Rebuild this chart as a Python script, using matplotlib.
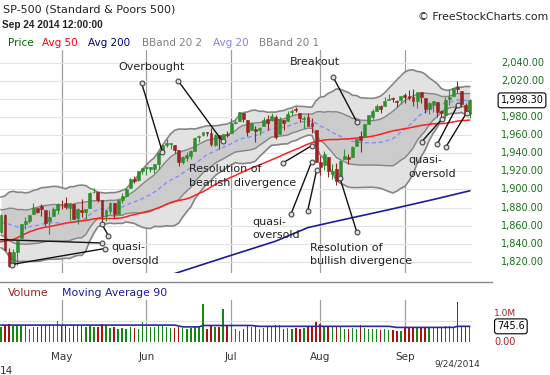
import matplotlib
matplotlib.use("Agg")
import matplotlib.pyplot as plt
from matplotlib.transforms import blended_transform_factory
import numpy as np
import pandas as pd

# Closes before the visible window (Jan 29 - Apr 8 2014), only used to warm up the averages
warmup_closes = [1774.20, 1794.19, 1782.59,
                 1741.89, 1755.20, 1751.64, 1773.43, 1797.02, 1799.84, 1819.75, 1819.26, 1829.83,
                 1838.63, 1840.76, 1828.75, 1839.78, 1836.25, 1847.61, 1845.12, 1845.16, 1854.29, 1859.45,
                 1845.73, 1873.91, 1873.81, 1877.03, 1878.04, 1877.17, 1867.63, 1868.20, 1846.34, 1841.13,
                 1858.83, 1872.25, 1860.77, 1872.01, 1866.52, 1857.44, 1865.62, 1852.56, 1849.04, 1857.62,
                 1872.34, 1885.52, 1890.90, 1888.77, 1865.09, 1845.04, 1851.96]

dates = ["2014-04-09", "2014-04-10", "2014-04-11", "2014-04-14", "2014-04-15", "2014-04-16", "2014-04-17",
         "2014-04-21", "2014-04-22", "2014-04-23", "2014-04-24", "2014-04-25", "2014-04-28", "2014-04-29",
         "2014-04-30", "2014-05-01", "2014-05-02", "2014-05-05", "2014-05-06", "2014-05-07", "2014-05-08",
         "2014-05-09", "2014-05-12", "2014-05-13", "2014-05-14", "2014-05-15", "2014-05-16", "2014-05-19",
         "2014-05-20", "2014-05-21", "2014-05-22", "2014-05-23", "2014-05-27", "2014-05-28", "2014-05-29",
         "2014-05-30", "2014-06-02", "2014-06-03", "2014-06-04", "2014-06-05", "2014-06-06", "2014-06-09",
         "2014-06-10", "2014-06-11", "2014-06-12", "2014-06-13", "2014-06-16", "2014-06-17", "2014-06-18",
         "2014-06-19", "2014-06-20", "2014-06-23", "2014-06-24", "2014-06-25", "2014-06-26", "2014-06-27",
         "2014-06-30", "2014-07-01", "2014-07-02", "2014-07-03", "2014-07-07", "2014-07-08", "2014-07-09",
         "2014-07-10", "2014-07-11", "2014-07-14", "2014-07-15", "2014-07-16", "2014-07-17", "2014-07-18",
         "2014-07-21", "2014-07-22", "2014-07-23", "2014-07-24", "2014-07-25", "2014-07-28", "2014-07-29",
         "2014-07-30", "2014-07-31", "2014-08-01", "2014-08-04", "2014-08-05", "2014-08-06", "2014-08-07",
         "2014-08-08", "2014-08-11", "2014-08-12", "2014-08-13", "2014-08-14", "2014-08-15", "2014-08-18",
         "2014-08-19", "2014-08-20", "2014-08-21", "2014-08-22", "2014-08-25", "2014-08-26", "2014-08-27",
         "2014-08-28", "2014-08-29", "2014-09-02", "2014-09-03", "2014-09-04", "2014-09-05", "2014-09-08",
         "2014-09-09", "2014-09-10", "2014-09-11", "2014-09-12", "2014-09-15", "2014-09-16", "2014-09-17",
         "2014-09-18", "2014-09-19", "2014-09-22", "2014-09-23", "2014-09-24"]

opens = [1852.64, 1872.28, 1830.65, 1818.18, 1831.45, 1846.01, 1861.73, 1865.79, 1872.57, 1879.32, 1881.97,
         1877.72, 1865.00, 1870.78, 1877.10, 1884.39, 1885.30, 1879.45, 1883.69, 1868.53, 1877.39, 1875.27,
         1880.03, 1896.75, 1897.13, 1888.16, 1871.19, 1876.66, 1884.88, 1873.34, 1888.19, 1893.32, 1902.01,
         1911.77, 1910.60, 1920.33, 1923.87, 1923.07, 1923.06, 1928.52, 1942.41, 1948.97, 1950.34, 1949.37,
         1943.35, 1930.80, 1934.84, 1937.15, 1942.73, 1957.50, 1960.45, 1962.92, 1961.97, 1949.27, 1959.89,
         1956.56, 1960.79, 1962.29, 1973.06, 1975.88, 1984.22, 1976.39, 1965.10, 1966.67, 1965.76, 1969.86,
         1977.36, 1976.35, 1979.75, 1961.54, 1976.93, 1975.65, 1985.32, 1988.07, 1984.60, 1978.25, 1980.03,
         1973.21, 1965.14, 1929.80, 1926.62, 1936.34, 1917.29, 1923.03, 1910.35, 1933.43, 1935.73, 1935.60,
         1947.41, 1958.87, 1958.36, 1972.73, 1980.46, 1986.82, 1992.60, 1991.74, 1998.59, 2000.54, 1997.42,
         1998.45, 2004.07, 2003.57, 2001.67, 1998.00, 2007.17, 2000.73, 1988.41, 1992.85, 1996.74, 1986.04,
         1981.93, 1999.30, 2003.07, 2012.74, 2009.08, 1992.78, 1983.34]
highs = [1872.43, 1872.53, 1835.07, 1834.19, 1844.02, 1862.31, 1869.63, 1871.89, 1884.89, 1879.75, 1884.06,
         1877.72, 1877.01, 1880.60, 1885.20, 1888.59, 1891.33, 1885.51, 1883.69, 1879.83, 1889.07, 1878.57,
         1897.13, 1902.17, 1897.13, 1888.16, 1878.28, 1886.00, 1884.88, 1888.80, 1896.33, 1901.26, 1912.28,
         1914.46, 1920.03, 1924.03, 1925.88, 1925.07, 1928.63, 1941.74, 1949.44, 1955.55, 1950.86, 1949.37,
         1943.35, 1937.30, 1941.15, 1943.69, 1957.74, 1959.87, 1963.91, 1963.74, 1968.17, 1960.83, 1959.89,
         1961.47, 1964.24, 1978.58, 1976.67, 1985.59, 1984.22, 1976.39, 1974.15, 1969.84, 1968.67, 1979.85,
         1982.52, 1983.94, 1981.80, 1979.91, 1976.93, 1986.24, 1989.23, 1991.39, 1984.60, 1981.52, 1984.85,
         1978.90, 1965.14, 1937.35, 1942.92, 1936.34, 1927.91, 1928.89, 1932.38, 1944.90, 1939.65, 1948.41,
         1955.23, 1964.04, 1971.99, 1982.57, 1988.57, 1994.76, 1993.54, 2001.95, 2005.04, 2002.14, 1998.55,
         2003.38, 2006.12, 2009.28, 2011.17, 2007.71, 2007.17, 2001.01, 1996.66, 1997.65, 1996.74, 1987.18,
         2002.28, 2010.74, 2012.34, 2019.26, 2009.08, 1995.41, 1999.79]
lows = [1852.38, 1832.56, 1814.36, 1815.80, 1816.29, 1846.01, 1856.72, 1863.18, 1872.57, 1873.91, 1870.24,
        1859.70, 1850.61, 1870.78, 1872.69, 1878.04, 1878.50, 1866.77, 1867.72, 1862.36, 1870.05, 1867.02,
        1880.03, 1896.06, 1885.77, 1862.36, 1864.82, 1872.42, 1868.14, 1873.34, 1885.39, 1893.32, 1902.01,
        1907.30, 1909.82, 1916.64, 1915.98, 1918.79, 1918.60, 1922.93, 1942.41, 1947.16, 1944.64, 1940.08,
        1925.78, 1927.69, 1930.91, 1933.55, 1942.73, 1952.26, 1959.17, 1958.89, 1948.34, 1947.49, 1944.69,
        1952.18, 1958.22, 1962.29, 1972.58, 1975.88, 1974.88, 1959.46, 1965.10, 1952.86, 1959.63, 1969.86,
        1965.34, 1975.67, 1955.59, 1960.82, 1965.77, 1975.65, 1982.44, 1985.79, 1974.37, 1967.31, 1969.95,
        1962.42, 1930.67, 1916.37, 1921.20, 1913.77, 1911.45, 1904.78, 1909.01, 1933.43, 1928.29, 1935.60,
        1947.41, 1941.50, 1958.36, 1972.73, 1977.68, 1986.82, 1984.76, 1991.74, 1998.59, 1996.20, 1990.52,
        1994.65, 1994.85, 1998.14, 1992.54, 1990.10, 1995.60, 1984.61, 1982.99, 1985.93, 1980.26, 1978.48,
        1979.06, 1993.29, 2003.07, 2006.59, 1991.01, 1982.77, 1978.63]
closes = [1872.18, 1833.08, 1815.69, 1830.61, 1842.98, 1862.31, 1864.85, 1871.89, 1879.55, 1875.39, 1878.61,
          1863.40, 1869.43, 1878.33, 1883.95, 1883.68, 1881.14, 1884.66, 1867.72, 1878.21, 1875.63, 1878.48,
          1896.65, 1897.45, 1888.53, 1870.85, 1877.86, 1885.08, 1872.83, 1888.03, 1892.49, 1900.53, 1911.91,
          1909.78, 1920.03, 1923.57, 1924.97, 1924.24, 1927.88, 1940.46, 1949.44, 1951.27, 1950.79, 1943.89,
          1930.11, 1936.16, 1937.78, 1941.99, 1956.98, 1959.48, 1962.87, 1962.61, 1949.98, 1959.53, 1957.22,
          1960.96, 1960.23, 1973.32, 1974.62, 1985.44, 1977.65, 1963.71, 1972.83, 1964.68, 1967.57, 1977.10,
          1973.28, 1981.57, 1958.12, 1978.22, 1973.63, 1983.53, 1987.01, 1987.98, 1978.34, 1978.91, 1969.95,
          1970.07, 1930.67, 1925.15, 1938.99, 1920.21, 1920.24, 1909.57, 1931.59, 1936.92, 1933.75, 1946.72,
          1955.18, 1955.06, 1971.74, 1981.60, 1986.51, 1992.37, 1988.40, 1997.92, 2000.02, 2000.12, 1996.74,
          2003.37, 2002.28, 2000.72, 1997.65, 2007.71, 2001.54, 1988.44, 1995.69, 1997.45, 1985.54, 1984.13,
          1998.98, 2001.57, 2011.36, 2010.40, 1994.29, 1982.77, 1998.30]
volumes = [700, 820, 850, 760, 820, 780, 800, 620, 720, 700, 740, 760, 880, 760, 1000,
           780, 760, 680, 800, 820, 800, 720, 760, 700, 720, 860, 800, 650, 720, 640, 690,
           640, 700, 660, 640, 970, 700, 720, 700, 760, 740, 700, 690, 660, 720, 650, 640,
           650, 700, 720, 1810, 640, 760, 700, 720, 1550, 760, 780, 620, 520, 640, 740, 700,
           760, 640, 650, 720, 700, 820, 800, 640, 660, 640, 660, 620, 690, 700, 720, 930,
           880, 740, 780, 760, 740, 700, 620, 640, 660, 640, 820, 650, 620, 600, 640, 560,
           600, 580, 560, 520, 540, 700, 700, 720, 680, 660, 720, 680, 650, 720, 700, 740,
           760, 720, 1910, 760, 740, 720]

# 200 day average at a few dates
avg200_dates = ["2014-05-23", "2014-06-11", "2014-06-30", "2014-07-17", "2014-07-29",
                "2014-08-07", "2014-08-26", "2014-09-11", "2014-09-24"]
avg200 = [1790, 1807.3, 1826, 1843, 1858, 1865, 1877.7, 1888.9, 1898.5]

# volume moving average (90)
volma_dates = ["2014-04-09", "2014-06-11", "2014-06-13", "2014-06-19", "2014-06-20", "2014-07-09",
               "2014-07-11", "2014-08-26", "2014-08-28", "2014-09-18", "2014-09-19", "2014-09-24"]
volma = [805, 805, 720, 720, 786, 786, 746, 746, 695, 695, 746, 745.6]

month_dates = ["2014-05-01", "2014-06-02", "2014-07-01", "2014-08-01", "2014-09-02"]
month_labels = ["May", "Jun", "Jul", "Aug", "Sep"]
price_ticks = list(range(1820, 2041, 20))

# trading day index, Apr 10 = 0
x = np.arange(len(dates)) - 1
pos = {d: i - 1 for i, d in enumerate(dates)}

# Bollinger bands and averages
allc = pd.Series(warmup_closes + closes)
k = len(warmup_closes)
sma20 = allc.rolling(20).mean().values[k:]
sd20 = allc.rolling(20).std(ddof=0).values[k:]
sma50 = allc.rolling(50).mean().values[k:]

o = np.array(opens); c = np.array(closes)
h = np.array(highs); l = np.array(lows)
up = c >= o
GREEN, RED = "#2f8f2f", "#992222"
cols = np.where(up, GREEN, RED)

W, H = 550, 375
def box(left, top, right, bottom):
    return [left / W, 1 - bottom / H, (right - left) / W, (bottom - top) / H]

fig = plt.figure(figsize=(5.5, 3.75), dpi=100)
fig.patch.set_facecolor("white")
ax = fig.add_axes(box(0, 50, 472, 273))
vax = fig.add_axes(box(0, 300, 472, 342))
over = fig.add_axes([0, 0, 1, 1], zorder=10)
over.set_xlim(0, W)
over.set_ylim(H, 0)
over.axis("off")
over.patch.set_alpha(0)

xlim = (-1.24, 115.6)
for a in (ax, vax):
    a.set_xlim(*xlim)
    for s in a.spines.values():
        s.set_visible(False)
    a.tick_params(length=0, labelbottom=False, labelleft=False)
    a.set_xticks([])
    for d in month_dates:
        a.axvline(pos[d], color="#a0a0a0", lw=0.9, zorder=1)

# price panel
ax.set_ylim(1807.9, 2053.8)
ax.set_yticks(price_ticks)
ax.yaxis.grid(True, color="#e3e3e3", lw=0.8, zorder=0)
ax.fill_between(x, sma20 - 2 * sd20, sma20 + 2 * sd20, color="#e2e2e2", lw=0, zorder=2)
ax.fill_between(x, sma20 - sd20, sma20 + sd20, color="#cbcbcb", lw=0, zorder=2)
for band, lw in ((sma20 + 2 * sd20, 1.2), (sma20 - 2 * sd20, 1.2), (sma20 + sd20, 1.0), (sma20 - sd20, 1.0)):
    ax.plot(x, band, color="#858585", lw=lw, zorder=3)
ax.plot(x, sma20, color="#8c8cff", lw=1.0, ls=(0, (3, 2)), zorder=3)
ax.plot(x, sma50, color="#ff2020", lw=1.1, zorder=3)
ax.plot([pos[d] for d in avg200_dates], avg200, color="#1c1c9c", lw=1.2, zorder=3)

ax.vlines(x, l, h, color=cols, lw=0.8, zorder=5)
ax.bar(x, np.maximum(np.abs(c - o), 0.6), bottom=np.minimum(o, c), width=0.72,
       color=cols, edgecolor=cols, lw=0.4, zorder=6)

# volume panel
vax.set_ylim(0, 2000)
vax.set_yticks([1000])
vax.yaxis.grid(True, color="#e3e3e3", lw=0.8, zorder=0)
vax.bar(x, volumes, width=0.35, color=np.where(up, "#118811", "#aa1111"), lw=0, zorder=3)
vax.plot([pos[d] for d in volma_dates], volma, color="#2a2aa8", lw=1.2, zorder=4)

# separator between the panels
over.plot([0, 492], [282, 282], color="#8a8a8a", lw=1)

# header texts
over.text(3, 9, "SP-500 (Standard & Poors 500)", fontsize=8, color="#222222", va="center")
over.text(2, 25, "Sep 24 2014 12:00:00", fontsize=7.2, family="Liberation Sans",
          weight="bold", color="#222222", va="center")
over.text(548, 17, "\u00a9 FreeStockCharts.com", fontsize=7.8, color="#222222", ha="right", va="center")
legend = [("Price", "#006600", 8), ("Avg 50", "#ff0000", 42), ("Avg 200", "#000080", 88),
          ("BBand 20 2", "#808080", 142), ("Avg 20", "#8080ff", 213), ("BBand 20 1", "#808080", 259)]
for txt, col, px in legend:
    over.text(px, 43, txt, fontsize=7.5, color=col, va="center")
over.text(8, 293, "Volume", fontsize=7.8, color="#992222", va="center")
over.text(62, 293, "Moving Average 90", fontsize=7.8, color="#1c1c9c", va="center")

# right hand price scale
ptrans = blended_transform_factory(over.transData, ax.transData)
for v in price_ticks:
    over.text(501, v, f"{v:,.2f}", transform=ptrans, fontsize=7, color="#1a6e1a", va="center")
over.text(522, c[-1], f"{c[-1]:,.2f}", transform=ptrans, fontsize=7, color="black", ha="center",
          va="center", bbox=dict(boxstyle="round,pad=0.25", fc="white", ec="black", lw=0.8))
vtrans = blended_transform_factory(over.transData, vax.transData)
over.text(494, 313, "1.0M", fontsize=6.5, color="#aa2222", va="center")
over.text(494, 0, "0.00", transform=vtrans, fontsize=7, color="#aa2222", va="center")
over.text(497, volma[-1], f"{volma[-1]:.1f}", transform=vtrans, fontsize=7, color="black",
          va="center", bbox=dict(boxstyle="round,pad=0.25", fc="white", ec="black", lw=0.8))

# month labels
mtrans = blended_transform_factory(ax.transData, over.transData)
for d, lab in zip(month_dates, month_labels):
    over.text(pos[d], 357, lab, transform=mtrans, fontsize=7.5, color="#333333", ha="center", va="center")
over.text(0, 371, "14", fontsize=7.5, color="#333333", va="center")
over.text(457, 364, "9/24/2014", fontsize=6.5, color="#333333", ha="center", va="center")

# annotations (pixel positions on the image)
notes = [("Overbought", 152, 67, "center"),
         ("Resolution of\nbearish divergence", 189, 176, "left"),
         ("Breakout", 315, 62, "center"),
         ("quasi-\noversold", 111, 254, "left"),
         ("quasi-\noversold", 252, 228.5, "left"),
         ("Resolution of\nbullish divergence", 310, 254.5, "left"),
         ("quasi-\noversold", 408, 167, "left")]
for txt, px, py, ha in notes:
    over.text(px, py, txt, fontsize=8, color="#222222", ha=ha, va="center", linespacing=1.45)

pointers = [((141.7, 83.3), (162.3, 151.7)), ((178.3, 81), (222.5, 141.3)),
            ((283.3, 162.7), (311.7, 145.7)), ((333.3, 77.3), (356.7, 121.7)),
            ((291, 214), (311.7, 161.7)), ((307.7, 210.7), (316.7, 170)),
            ((340, 178.3), (356.7, 231.7)), ((-3, 239.5), (101.7, 243)),
            ((11.7, 264.5), (105, 248.5)), ((101.5, 223.5), (108.3, 235.5)),
            ((421.7, 141.7), (441.7, 119.3)), ((437.3, 144), (457.7, 105)),
            ((445.7, 147.3), (466.7, 112.7))]
for (x0, y0), (x1, y1) in pointers:
    over.plot([x0, x1], [y0, y1], color="#111111", lw=1.0, solid_capstyle="round")
    over.plot([x0, x1], [y0, y1], ls="none", marker="o", ms=3.5, mfc="#dddddd", mec="#444444", mew=0.8)

fig.savefig("out.png", dpi=100)
